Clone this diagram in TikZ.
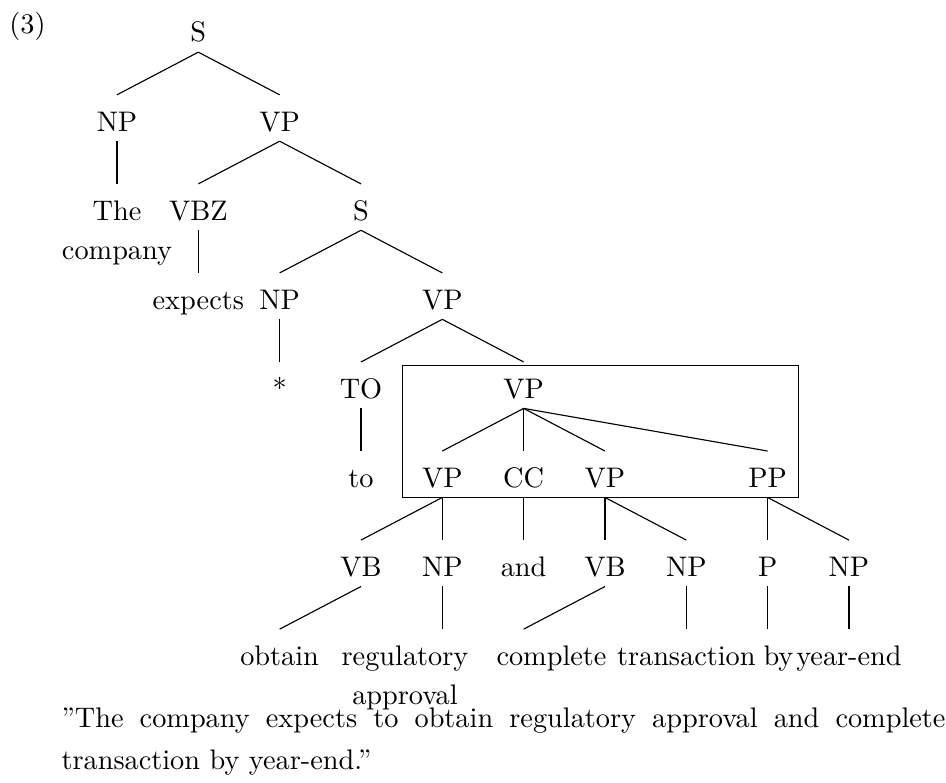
\documentclass[tikz,border=0pt]{standalone}
\begin{document}
\begin{tikzpicture}[x=28.74pt, y=-31.47pt,
    lbl/.style={anchor=base, inner sep=0pt, text height=12.6pt, text depth=3.4pt},
    leaf/.style={anchor=north, inner sep=0pt, align=center, font=\fontsize{10}{13.8}\selectfont}]
   \useasboundingbox (-0.4386,-0.4715) rectangle (11.1934,8.3193);
   \node[anchor=base, inner sep=0pt] (N) at (-0.1,-0.1) {(3)};
   % tree, one row per line
   \node[lbl] (S) at (2,0) {S};
   \node[lbl] (NP) at (1,1) {NP};
   \node[lbl] (VP) at (3,1) {VP};
   \node[leaf] (CO) at (1,1.7795) {The\\company};
   \node[lbl] (VBZ) at (2,2) {VBZ};
   \node[lbl] (S2) at (4,2) {S};
   \node[lbl] (EX) at (2,3) {expects};
   \node[lbl] (NP3) at (3,3) {NP};
   \node[lbl] (VP3) at (5,3) {VP};
   \node[lbl] (ST) at (3,4) {*};
   \node[lbl] (TO) at (4,4) {TO};
   \node[lbl] (VP4) at (6,4) {VP};
   \node[lbl] (to) at (4,5) {to};
   \node[lbl] (VPa) at (5,5) {VP};
   \node[lbl] (CC) at (6,5) {CC};
   \node[lbl] (VPb) at (7,5) {VP};
   \node[lbl] (PP) at (9,5) {PP};
   \node[lbl] (VBa) at (4,6) {VB};
   \node[lbl] (NPa) at (5,6) {NP};
   \node[lbl] (and) at (6,6) {and};
   \node[lbl] (VBb) at (7,6) {VB};
   \node[lbl] (NPb) at (8,6) {NP};
   \node[lbl] (P) at (9,6) {P};
   \node[lbl] (NPc) at (10,6) {NP};
   \node[lbl] (OB) at (3,7) {obtain};
   \node[leaf] (RA) at (4.541,6.7795) {regulatory\\approval};
   \node[lbl] (CM) at (6.343,7) {complete};
   \node[lbl] (TR) at (8,7) {transaction};
   \node[lbl] (BY) at (9.133,7) {by};
   \node[lbl] (YE) at (10,7) {year-end};
   \path[draw]
     (S.south)   edge (NP.north)
                 edge (VP.north)
     (NP.south)  edge (VBZ.north -| CO)
     (VP.south)  edge (VBZ.north)
                 edge (S2.north)
     (VBZ.south) edge (EX.north)
     (S2.south)  edge (NP3.north)
                 edge (VP3.north)
     (NP3.south) edge (ST.north)
     (VP3.south) edge (TO.north)
                 edge (VP4.north)
     (TO.south)  edge (to.north)
     (VP4.south) edge (VPa.north)
                 edge (CC.north)
                 edge (VPb.north)
                 edge (PP.north)
     (VPa.south) edge (VBa.north)
                 edge (NPa.north)
     (CC.south)  edge (and.north)
     (VPb.south) edge (VBb.north)
                 edge (NPb.north)
     (PP.south)  edge (P.north)
                 edge (NPc.north)
     (VBa.south) edge (OB.north)
     (NPa.south) edge (OB.north -| NPa)
     (VBb.south) edge (CM.north -| and)
     (NPb.south) edge (TR.north)
     (P.south)   edge (BY.north -| P)
     (NPc.south) edge (YE.north);
   \draw (4.513,3.634) rectangle (9.377,5.116);
   \node[anchor=north west, inner sep=0pt, text width=312.4pt, align=justify,
         font=\fontsize{10}{14.8}\selectfont] (cap) at (0.311,7.471)
     {\hyphenpenalty=10000 ”The company expects to obtain regulatory approval and complete transaction by year-end.”};
  \end{tikzpicture}
\end{document}
